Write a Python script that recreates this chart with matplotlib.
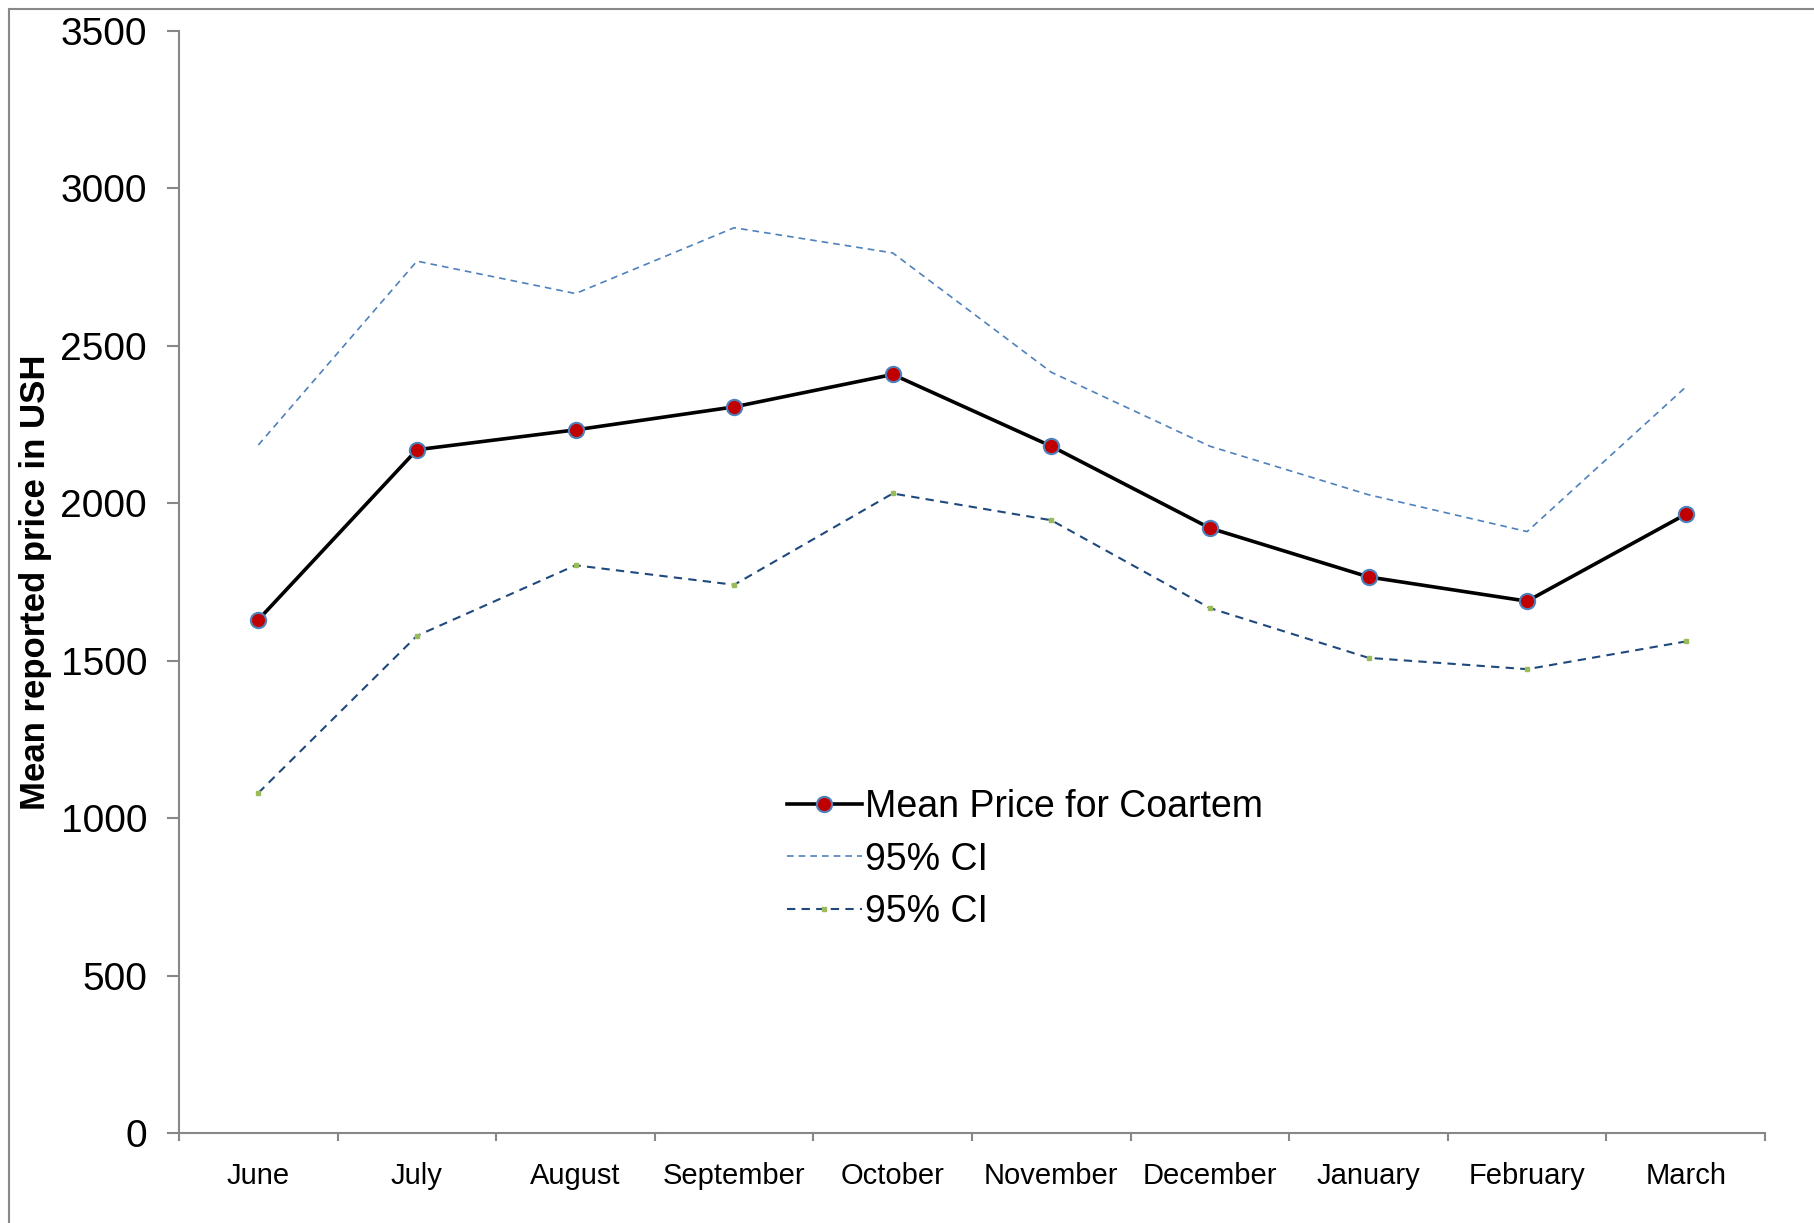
import matplotlib
matplotlib.use("Agg")
import matplotlib.pyplot as plt
from matplotlib.lines import Line2D
from matplotlib.ticker import FixedLocator

# data
months = ["June", "July", "August", "September", "October", "November",
          "December", "January", "February", "March"]
mean_price = [1630, 2170, 2233, 2306, 2409, 2181, 1921, 1766, 1689, 1965]
upper_ci = [2185, 2769, 2666, 2875, 2795, 2416, 2181, 2027, 1910, 2369]
lower_ci = [1080, 1579, 1803, 1741, 2031, 1946, 1667, 1509, 1473, 1561]
y_ticks = [0, 500, 1000, 1500, 2000, 2500, 3000, 3500]

narrow = ["Liberation Sans Narrow", "Liberation Sans", "DejaVu Sans"]
plt.rcParams["font.family"] = ["Liberation Sans", "DejaVu Sans"]

fig = plt.figure(figsize=(18.14, 12.23), dpi=100)
ax = fig.add_axes([0.0987, 0.0736, 0.8743, 0.9011])

x = list(range(len(months)))
ax.plot(x, mean_price, color="black", lw=2.6, marker="o", markersize=11,
        markerfacecolor="#C00000", markeredgecolor="#4F81BD", markeredgewidth=1.5,
        label="Mean Price for Coartem", zorder=3)
ax.plot(x, upper_ci, color="#4F81BD", lw=1.2, ls=(0, (4, 3)), label="95% CI")
ax.plot(x, lower_ci, color="#1F497D", lw=1.5, ls=(0, (4, 3)), marker="s",
        markersize=3, markerfacecolor="#9BBB59", markeredgecolor="#9BBB59",
        label="95% CI")

ax.set_xlim(-0.5, len(months) - 0.5)
ax.set_ylim(0, 3500)
ax.set_yticks(y_ticks)
ax.set_xticks(x)
ax.set_xticklabels(months, family=narrow, fontsize=21)
ax.xaxis.set_minor_locator(FixedLocator([i - 0.5 for i in range(len(months) + 1)]))
ax.tick_params(axis="x", which="major", length=0, pad=21)
ax.tick_params(axis="x", which="minor", length=6, width=1.5, color="#878787")
ax.tick_params(axis="y", length=9, width=1.5, color="#878787", labelsize=28, pad=14)

for s in ["top", "right"]:
    ax.spines[s].set_visible(False)
for s in ["left", "bottom"]:
    ax.spines[s].set_color("#878787")
    ax.spines[s].set_linewidth(1.5)

ax.set_ylabel("Mean reported price in USH", family=narrow, fontweight="bold",
              fontsize=25, labelpad=6)

leg = ax.legend(loc="upper left", bbox_to_anchor=(0.362, 0.343), frameon=False,
                fontsize=27, handlelength=2.0, handletextpad=0.08, labelspacing=0.45)

# frame remnants on top and left of the picture
fig.add_artist(Line2D([9 / 1814, 9 / 1814], [0, 1 - 9 / 1223],
                      transform=fig.transFigure, color="#888888", lw=1.5))
fig.add_artist(Line2D([9 / 1814, 1], [1 - 9 / 1223, 1 - 9 / 1223],
                      transform=fig.transFigure, color="#888888", lw=1.5))

fig.savefig("out.png", dpi=100)
